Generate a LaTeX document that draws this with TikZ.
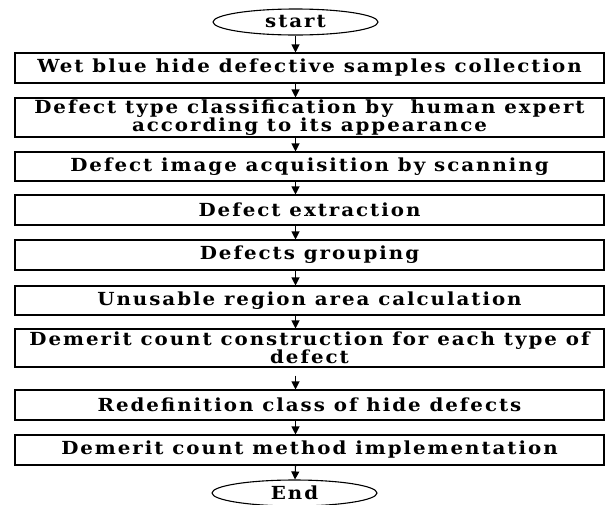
\documentclass[tikz,border=0pt]{standalone}
\usepackage{fontspec}
\setmainfont{DejaVu Serif}[LetterSpace=11,FakeStretch=1.1]
\usetikzlibrary{shapes.geometric,arrows.meta}
\begin{document}
\begin{tikzpicture}[x=1pt,y=-1pt,
  stepbox/.style={draw,line width=1.1pt,minimum width=589pt,inner sep=0pt,
    align=center,font=\fontsize{18}{18.5}\selectfont\bfseries},
  term/.style={draw,ellipse,line width=1.1pt,minimum width=165pt,minimum height=26pt,
    inner sep=0pt,font=\fontsize{18}{18.5}\selectfont\bfseries},
  flow/.style={-{Triangle[length=8pt,width=8pt]},line width=1.1pt}]
\useasboundingbox (0,0) rectangle (607,504);
\clip (0,0) rectangle (607,504);
\node[term] (s) at (295.5,22) {start};
\node[stepbox,minimum height=30pt] (b1) at (309.5,68) {Wet blue hide defective samples collection};
\node[stepbox,minimum height=39pt] (b2) at (309.5,117.5) {Defect type classification by\ \ human expert\\according to its appearance};
\node[stepbox,minimum height=29pt] (b3) at (309.5,166.5) {Defect image acquisition by scanning};
\node[stepbox,minimum height=30pt] (b4) at (309.5,210) {Defect extraction};
\node[stepbox,minimum height=30pt] (b5) at (309.5,255) {Defects grouping};
\node[stepbox,minimum height=29pt] (b6) at (309.5,300.5) {Unusable region area calculation};
\node[stepbox,minimum height=38pt] (b7) at (309.5,348) {Demerit count construction for each type of\\defect};
\node[stepbox,minimum height=30pt] (b8) at (309.5,405) {Redefinition class of hide defects};
\node[stepbox,minimum height=30pt] (b9) at (309.5,450) {Demerit count method implementation};
\node[term] (e) at (294.5,493) {End};
\draw[flow] (s) -- (b1.north -| s);
\draw[flow] (b1.south -| s) -- (b2.north -| s);
\draw[flow] (b2.south -| s) -- (b3.north -| s);
\draw[flow] (b3.south -| s) -- (b4.north -| s);
\draw[flow] (b4.south -| s) -- (b5.north -| s);
\draw[flow] (b5.south -| s) -- (b6.north -| s);
\draw[flow] (b6.south -| s) -- (b7.north -| s);
\draw[flow] ([yshift=-8pt]b7.south -| s) -- (b8.north -| s);
\draw[flow] (b8.south -| s) -- (b9.north -| s);
\draw[flow] (b9.south -| s) -- (e);
\end{tikzpicture}
\end{document}
